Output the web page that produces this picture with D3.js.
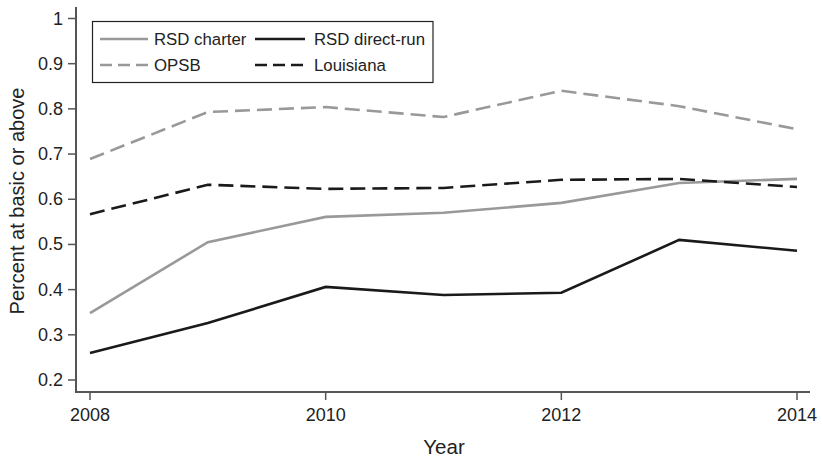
<!DOCTYPE html>
<html>
<head>
<meta charset="utf-8">
<script src="https://cdn.jsdelivr.net/npm/d3@7"></script>
<style>
body { margin: 0; background: #fff; }
</style>
</head>
<body>
<div></div>
<script>
const width = 822, height = 459
const svg = d3.select("div")
	.append("svg")
	.attr("width", width)
	.attr("height", height)

// data
const years = [2008, 2009, 2010, 2011, 2012, 2013, 2014]
const rsdCharter = [0.348, 0.505, 0.561, 0.570, 0.592, 0.636, 0.645]
const rsdDirect = [0.260, 0.326, 0.406, 0.388, 0.393, 0.510, 0.486]
const opsb = [0.689, 0.793, 0.804, 0.782, 0.840, 0.806, 0.755]
const louisiana = [0.567, 0.632, 0.623, 0.625, 0.643, 0.645, 0.627]
const xTicks = [2008, 2010, 2012, 2014]
const yTicks = [0.2, 0.3, 0.4, 0.5, 0.6, 0.7, 0.8, 0.9, 1]

const font = "'Liberation Sans', Arial, Helvetica, sans-serif"
const axisColor = "#555"
const grey = "#999", black = "#1a1a1a"

const series = [
	{name: "RSD charter", values: rsdCharter, color: grey, dash: null},
	{name: "RSD direct-run", values: rsdDirect, color: black, dash: null},
	{name: "OPSB", values: opsb, color: grey, dash: "15,7"},
	{name: "Louisiana", values: louisiana, color: black, dash: "15,7"}
]

// scales
const x = d3.scaleLinear().domain([2008, 2014]).range([90, 797])
const y = d3.scaleLinear().domain([0.2, 1]).range([380, 18.5])

// axes lines
svg.append("line")
	.attr("x1", 76).attr("x2", 76).attr("y1", 7).attr("y2", 393)
	.attr("stroke", axisColor).attr("stroke-width", 2)
svg.append("line")
	.attr("x1", 75).attr("x2", 810).attr("y1", 392).attr("y2", 392)
	.attr("stroke", axisColor).attr("stroke-width", 2)

// y ticks
svg.selectAll().data(yTicks).enter().append("line")
	.attr("x1", 68).attr("x2", 76)
	.attr("y1", d => y(d)).attr("y2", d => y(d))
	.attr("stroke", axisColor).attr("stroke-width", 1.5)
svg.selectAll().data(yTicks).enter().append("text")
	.attr("x", 63).attr("y", d => y(d))
	.attr("text-anchor", "end")
	.attr("dominant-baseline", "central")
	.attr("font-family", font).attr("font-size", 18).attr("fill", "#222")
	.text(d => d === 1 ? "1" : d3.format(".1f")(d))

// x ticks
svg.selectAll().data(xTicks).enter().append("line")
	.attr("x1", d => x(d)).attr("x2", d => x(d))
	.attr("y1", 392).attr("y2", 400)
	.attr("stroke", axisColor).attr("stroke-width", 1.5)
svg.selectAll().data(xTicks).enter().append("text")
	.attr("x", d => x(d)).attr("y", 415)
	.attr("text-anchor", "middle")
	.attr("dominant-baseline", "central")
	.attr("font-family", font).attr("font-size", 18).attr("fill", "#222")
	.text(d => d)

// axis titles
svg.append("text")
	.attr("x", 444).attr("y", 446)
	.attr("text-anchor", "middle").attr("dominant-baseline", "central")
	.attr("font-family", font).attr("font-size", 20.5).attr("fill", "#222")
	.text("Year")
svg.append("text")
	.attr("transform", `translate(17,201) rotate(-90)`)
	.attr("text-anchor", "middle").attr("dominant-baseline", "central")
	.attr("font-family", font).attr("font-size", 20).attr("fill", "#222")
	.text("Percent at basic or above")

// lines
const line = d3.line()
	.x((d, i) => x(years[i]))
	.y(d => y(d))
svg.selectAll().data(series).enter().append("path")
	.attr("d", d => line(d.values))
	.attr("fill", "none")
	.attr("stroke", d => d.color)
	.attr("stroke-width", 2.6)
	.attr("stroke-dasharray", d => d.dash)

// legend
svg.append("rect")
	.attr("x", 92.5).attr("y", 21.5).attr("width", 340.5).attr("height", 61)
	.attr("fill", "#fff").attr("stroke", "#222").attr("stroke-width", 1.2)
const legendPos = [[100, 39], [255, 39], [100, 65], [255, 65]]
const lg = svg.selectAll().data(series).enter().append("g")
	.attr("transform", (d, i) => `translate(${legendPos[i][0]},${legendPos[i][1]})`)
lg.append("line")
	.attr("x1", 0).attr("x2", (d, i) => i % 2 ? 50 : 48).attr("y1", 0).attr("y2", 0)
	.attr("stroke", d => d.color).attr("stroke-width", 2.6)
	.attr("stroke-dasharray", d => d.dash ? "12,6" : null)
lg.append("text")
	.attr("x", (d, i) => i % 2 ? 59 : 54).attr("y", 0)
	.attr("dominant-baseline", "central")
	.attr("font-family", font).attr("font-size", 16.8).attr("fill", "#222")
	.text(d => d.name)
</script>
</body>
</html>
